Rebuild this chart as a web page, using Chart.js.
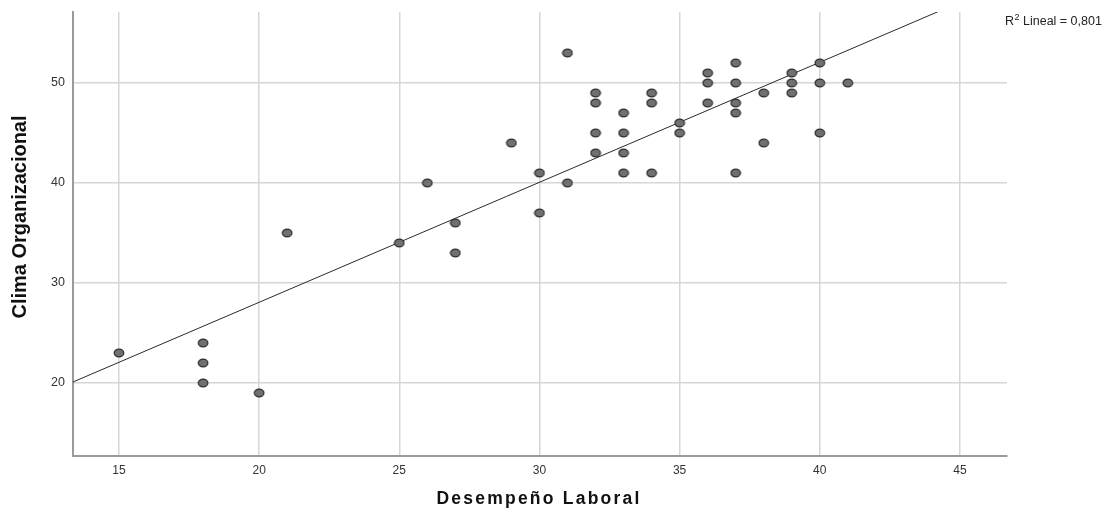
<!DOCTYPE html>
<html>
<head>
<meta charset="utf-8">
<script src="https://cdn.jsdelivr.net/npm/chart.js@4.4.1/dist/chart.umd.min.js"></script>
<style>
  html, body { margin: 0; padding: 0; background: #fff; }
  #wrap { width: 1116px; height: 508px; }
</style>
</head>
<body>
<div id="wrap"><canvas id="scatter" width="1116" height="508"></canvas></div>
<script>
// Desempeño Laboral (x) vs Clima Organizacional (y)
const desempeno = [15, 18, 18, 18, 20, 21, 25, 26, 27, 27, 29, 30, 30, 31, 31,
  32, 32, 32, 32, 33, 33, 33, 33, 34, 34, 34, 35, 35, 36, 36, 36,
  37, 37, 37, 37, 37, 38, 38, 39, 39, 39, 40, 40, 40, 41];
const clima = [23, 24, 22, 20, 19, 35, 34, 40, 36, 33, 44, 41, 37, 53, 40,
  49, 48, 45, 43, 47, 45, 43, 41, 49, 48, 41, 46, 45, 51, 50, 48,
  52, 50, 48, 47, 41, 49, 44, 51, 50, 49, 52, 50, 45, 50];

const xTicks = [15, 20, 25, 30, 35, 40, 45];
const yTicks = [20, 30, 40, 50];
const X_MIN = 13.36, X_MAX = 46.68;
const Y_MIN = 12.7, Y_MAX = 57.1;

// fit line
const fitIntercept = 4.07;
const fitSlope = 1.2;
const r2Text = "0,801";

const points = desempeno.map((x, i) => ({ x, y: clima[i] }));
const fitLine = [X_MIN, X_MAX].map((x) => ({ x, y: fitIntercept + fitSlope * x }));

function makeDot() {
  const c = document.createElement("canvas");
  c.width = 12;
  c.height = 10;
  const g = c.getContext("2d");
  g.beginPath();
  g.ellipse(6, 5, 4.8, 3.9, 0, 0, Math.PI * 2);
  g.fillStyle = "#707070";
  g.fill();
  g.lineWidth = 1.2;
  g.strokeStyle = "#2e2e2e";
  g.stroke();
  return c;
}

const titles = {
  id: "titles",
  afterDraw(chart) {
    const { ctx } = chart;
    ctx.save();
    ctx.fillStyle = "#111";
    ctx.textAlign = "center";
    ctx.textBaseline = "middle";

    // x title, spread to width
    ctx.font = "bold 17.5px 'Liberation Sans', Arial, sans-serif";
    const xt = "Desempeño Laboral";
    const w = ctx.measureText(xt).width;
    ctx.letterSpacing = Math.max(0, (203 - w) / (xt.length - 1)).toFixed(2) + "px";
    ctx.fillText(xt, 539, 499);
    ctx.letterSpacing = "0px";

    // y title, condensed
    const yt = "Clima Organizacional";
    ctx.font = "bold 21px 'Liberation Sans', Arial, sans-serif";
    const wy = ctx.measureText(yt).width;
    ctx.translate(20, 217);
    ctx.rotate(-Math.PI / 2);
    ctx.scale(203 / wy, 1);
    ctx.fillText(yt, 0, 0);
    ctx.restore();

    // R2 label
    ctx.save();
    ctx.fillStyle = "#222";
    ctx.textBaseline = "alphabetic";
    ctx.textAlign = "left";
    ctx.font = "12.5px 'Liberation Sans', Arial, sans-serif";
    let x = 1005;
    ctx.fillText("R", x, 25);
    x += ctx.measureText("R").width;
    ctx.font = "9px 'Liberation Sans', Arial, sans-serif";
    ctx.fillText("2", x + 0.5, 20);
    x += ctx.measureText("2").width + 0.5;
    ctx.font = "12.5px 'Liberation Sans', Arial, sans-serif";
    ctx.fillText(" Lineal = " + r2Text, x, 25);
    ctx.restore();
  },
};

const keepTicks = (list) => (scale) => {
  scale.ticks = list.map((v) => ({ value: v }));
};

new Chart(document.getElementById("scatter"), {
  type: "scatter",
  data: {
    datasets: [
      {
        label: "Fit",
        type: "line",
        data: fitLine,
        borderColor: "#2a2a2a",
        borderWidth: 1,
        pointRadius: 0,
        fill: false,
        order: 1,
      },
      {
        label: "Datos",
        data: points,
        pointStyle: makeDot(),
        pointRadius: 5,
        order: 0,
      },
    ],
  },
  options: {
    responsive: false,
    animation: false,
    layout: { padding: { top: 12, right: 109, left: 0, bottom: 0 } },
    plugins: { legend: { display: false }, tooltip: { enabled: false } },
    scales: {
      x: {
        type: "linear",
        min: X_MIN,
        max: X_MAX,
        afterBuildTicks: keepTicks(xTicks),
        afterFit(scale) {
          scale.height = 52;
          scale.paddingLeft = 0;
          scale.paddingRight = 0;
        },
        grid: { color: "#d6d6d6", lineWidth: 1.5, drawTicks: false },
        border: { color: "#9a9a9a", width: 2 },
        ticks: {
          padding: 7,
          color: "#333",
          font: { family: "'Liberation Sans', Arial, sans-serif", size: 12 },
          maxRotation: 0,
        },
      },
      y: {
        type: "linear",
        min: Y_MIN,
        max: Y_MAX,
        afterBuildTicks: keepTicks(yTicks),
        afterFit(scale) {
          scale.width = 73;
          scale.paddingTop = 0;
          scale.paddingBottom = 0;
        },
        grid: { color: "#d6d6d6", lineWidth: 1.5, drawTicks: false },
        border: { color: "#9a9a9a", width: 2 },
        ticks: {
          padding: 8,
          color: "#333",
          font: { family: "'Liberation Sans', Arial, sans-serif", size: 12.5 },
        },
      },
    },
  },
  plugins: [titles],
});
</script>
</body>
</html>
